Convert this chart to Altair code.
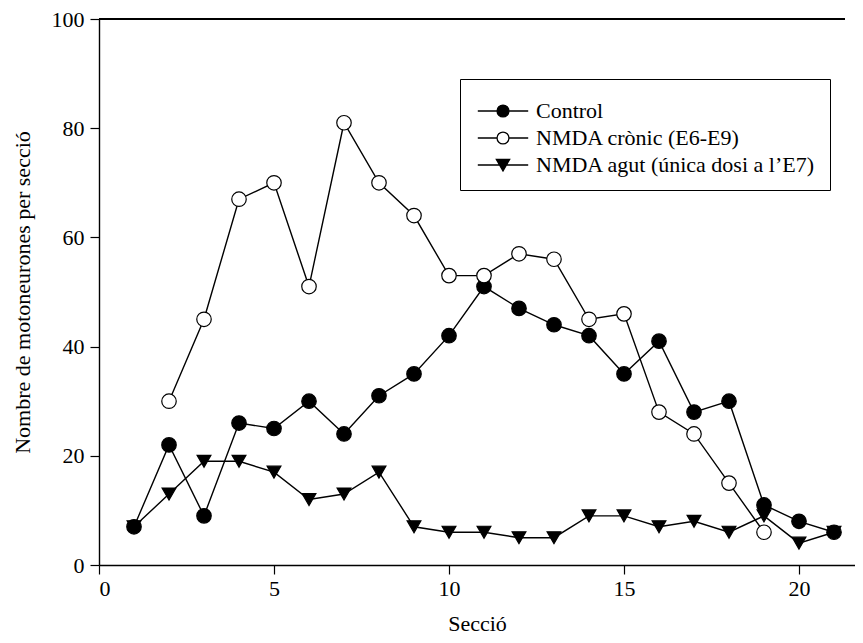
import altair as alt
import pandas as pd

# ---- data ----
sections = list(range(1, 22))
control = [7, 22, 9, 26, 25, 30, 24, 31, 35, 42, 51, 47, 44, 42, 35, 41, 28, 30, 11, 8, 6]
cronic_sections = list(range(2, 20))
cronic = [30, 45, 67, 70, 51, 81, 70, 64, 53, 53, 57, 56, 45, 46, 28, 24, 15, 6]
agut = [7, 13, 19, 19, 17, 12, 13, 17, 7, 6, 6, 5, 5, 9, 9, 7, 8, 6, 9, 4, 6]

series_names = ["Control", "NMDA crònic (E6-E9)", "NMDA agut (única dosi a l’E7)"]
x_ticks = [0, 5, 10, 15, 20]
y_ticks = [0, 20, 40, 60, 80, 100]

rows = []
for s, v in zip(sections, control):
    rows.append({"section": s, "value": v, "series": series_names[0]})
for s, v in zip(cronic_sections, cronic):
    rows.append({"section": s, "value": v, "series": series_names[1]})
for s, v in zip(sections, agut):
    rows.append({"section": s, "value": v, "series": series_names[2]})
df = pd.DataFrame(rows)

FONT = "Liberation Serif"

x = alt.X(
    "section:Q",
    scale=alt.Scale(domain=[0, 21.6], nice=False, zero=False),
    axis=alt.Axis(values=x_ticks, title="Secció", grid=False, format="d",
                  labelPadding=4, titlePadding=14),
)
y = alt.Y(
    "value:Q",
    scale=alt.Scale(domain=[0, 100], nice=False),
    axis=alt.Axis(values=y_ticks, title="Nombre de motoneurones per secció",
                  grid=False, labelPadding=6, titlePadding=17),
)

base = alt.Chart(df)

lines = base.mark_line(color="black", strokeWidth=1.4).encode(
    x=x, y=y, detail="series:N"
)

def marker_layer(name, shape, fill, size):
    return base.transform_filter(alt.datum.series == name).mark_point(
        shape=shape, filled=True, fill=fill, stroke="black",
        strokeWidth=1.2, opacity=1, size=size,
    ).encode(x=x, y=y)

m_control = marker_layer(series_names[0], "circle", "black", 210)
m_cronic = marker_layer(series_names[1], "circle", "white", 210)
m_agut = marker_layer(series_names[2], "triangle-down", "black", 190)

# legend symbols: line segment + marker (custom paths, 1 unit = 7 px at size 196)
p_circle = ("M-3.6,0H-0.85M0.85,0H3.6"
            "M-0.85,0A0.85,0.85 0 1,0 0.85,0A0.85,0.85 0 1,0 -0.85,0Z")
p_tri = "M-3.6,0H3.6M-0.95,-0.8L0.95,-0.8L0,0.85Z"

leg = alt.Legend(
    title=" ", titleFontSize=4, titlePadding=3,
    orient="none", legendX=361, legendY=60,
    symbolSize=196, symbolStrokeWidth=1.3, symbolOpacity=1,
    symbolOffset=18,
    labelFont=FONT, labelFontSize=22, labelColor="black", labelOffset=22,
    labelLimit=600,
    strokeColor="black", fillColor="white", padding=14, rowPadding=5,
)

# legend-only layer: no rows drawn, scales carry explicit domains
legend_layer = base.transform_filter("false").mark_point(
    filled=False, strokeWidth=1.3
).encode(
    x=x,
    y=y,
    shape=alt.Shape("series:N",
                    scale=alt.Scale(domain=series_names, range=[p_circle, p_circle, p_tri]),
                    legend=leg),
    fill=alt.Fill("series:N",
                  scale=alt.Scale(domain=series_names, range=["black", "white", "black"]),
                  legend=leg),
    stroke=alt.Stroke("series:N",
                      scale=alt.Scale(domain=series_names, range=["black", "black", "black"]),
                      legend=leg),
)

top_line = alt.Chart(df).mark_rule(color="black", strokeWidth=1.4).encode(
    y=alt.datum(100), x=alt.datum(0), x2=alt.datum(21.3)
)

chart = (
    alt.layer(top_line, lines, m_control, m_cronic, m_agut, legend_layer)
    .properties(
        width=756, height=546,
        autosize=alt.AutoSizeParams(type="none"),
        padding={"left": 91, "top": 11, "right": 0, "bottom": 78},
    )
    .configure_view(stroke=None)
    .configure_axis(
        domainColor="black", domainWidth=1.4,
        tickColor="black", tickWidth=1.2, tickSize=9,
        labelFont=FONT, labelFontSize=22, labelColor="black",
        titleFont=FONT, titleFontSize=22, titleFontWeight="normal", titleColor="black",
    )
)

chart.save("out.html", embed_options={"renderer": "svg", "actions": False})
